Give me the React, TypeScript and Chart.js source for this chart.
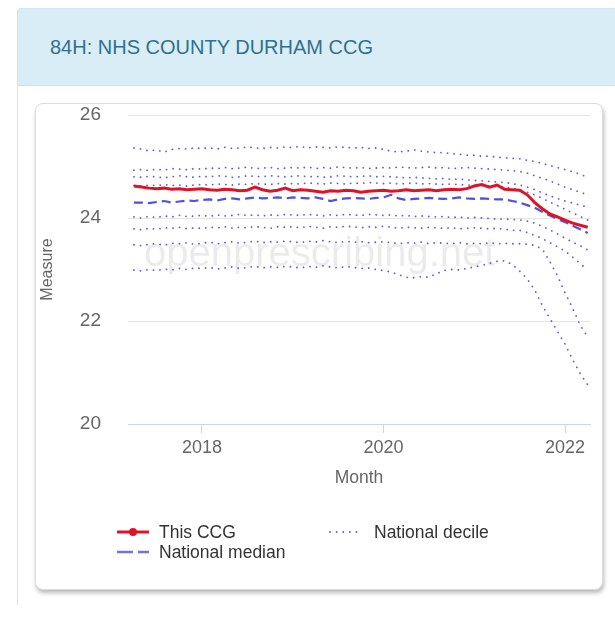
import React, { useEffect, useRef } from "react";
import { Chart, registerables } from "chart.js";

Chart.register(...registerables);

const FONT = '"Liberation Sans", Arial, Helvetica, sans-serif';

const months = [
  "2017-04", "2017-05", "2017-06", "2017-07", "2017-08", "2017-09", "2017-10", "2017-11", "2017-12",
  "2018-01", "2018-02", "2018-03", "2018-04", "2018-05", "2018-06", "2018-07", "2018-08", "2018-09", "2018-10", "2018-11", "2018-12",
  "2019-01", "2019-02", "2019-03", "2019-04", "2019-05", "2019-06", "2019-07", "2019-08", "2019-09", "2019-10", "2019-11", "2019-12",
  "2020-01", "2020-02", "2020-03", "2020-04", "2020-05", "2020-06", "2020-07", "2020-08", "2020-09", "2020-10", "2020-11", "2020-12",
  "2021-01", "2021-02", "2021-03", "2021-04", "2021-05", "2021-06",
  "2021-07", "2021-08", "2021-09", "2021-10", "2021-11", "2021-12", "2022-01", "2022-02", "2022-03", "2022-04",
];

const thisCCG = [
  24.62, 24.60, 24.58, 24.57, 24.58, 24.56, 24.57, 24.55, 24.56,
  24.57, 24.55, 24.54, 24.56, 24.55, 24.53, 24.54, 24.60, 24.55, 24.52, 24.54, 24.58,
  24.53, 24.55, 24.54, 24.52, 24.50, 24.53, 24.52, 24.54, 24.53, 24.50, 24.52, 24.53,
  24.54, 24.52, 24.53, 24.55, 24.53, 24.54, 24.55, 24.53, 24.55, 24.56, 24.55, 24.57,
  24.62, 24.65, 24.60, 24.64, 24.56, 24.55,
  24.54, 24.45, 24.30, 24.18, 24.08, 24.02, 23.96, 23.90, 23.86, 23.82,
];

const nationalMedian = [
  24.30, 24.30, 24.29, 24.31, 24.33, 24.30, 24.32, 24.34, 24.33,
  24.35, 24.36, 24.34, 24.37, 24.38, 24.36, 24.38, 24.40, 24.38, 24.39, 24.40, 24.38,
  24.40, 24.39, 24.38, 24.40, 24.37, 24.33, 24.36, 24.38, 24.39, 24.38, 24.37, 24.39,
  24.40, 24.45, 24.38, 24.35, 24.37, 24.38, 24.39, 24.38, 24.37, 24.38, 24.40, 24.38,
  24.37, 24.38, 24.37, 24.36, 24.36, 24.33,
  24.30, 24.25, 24.20, 24.12, 24.05, 23.98, 23.92, 23.85, 23.78, 23.71,
];

const decile90 = [
  25.36, 25.34, 25.30, 25.32, 25.28, 25.33, 25.35, 25.34, 25.36,
  25.35, 25.36, 25.34, 25.37, 25.35, 25.36, 25.38, 25.36, 25.35, 25.37, 25.36, 25.38,
  25.37, 25.39, 25.36, 25.38, 25.37, 25.36, 25.38, 25.37, 25.36, 25.37, 25.35, 25.36,
  25.33, 25.30, 25.28, 25.30, 25.32, 25.30, 25.28, 25.27, 25.27, 25.25, 25.24, 25.22,
  25.22, 25.20, 25.20, 25.18, 25.17, 25.16,
  25.15, 25.12, 25.10, 25.06, 25.02, 24.98, 24.94, 24.90, 24.85, 24.79,
];

const decile80 = [
  24.93, 24.94, 24.92, 24.95, 24.93, 24.96, 24.95, 24.94, 24.96,
  24.95, 24.97, 24.96, 24.98, 24.96, 24.97, 24.99, 24.96, 24.97, 24.98, 24.96, 24.97,
  24.98, 24.97, 24.99, 24.96, 24.98, 24.97, 24.99, 24.98, 24.97, 24.98, 24.96, 24.97,
  24.98, 24.97, 24.99, 24.98, 24.97, 24.98, 24.99, 24.97, 24.98, 24.96, 24.97, 24.98,
  24.97, 24.96, 24.95, 24.94, 24.93, 24.92,
  24.90, 24.87, 24.82, 24.77, 24.72, 24.66, 24.60, 24.55, 24.50, 24.45,
];

const decile70 = [
  24.80, 24.79, 24.81, 24.80, 24.78, 24.80, 24.82, 24.80, 24.79,
  24.81, 24.80, 24.82, 24.81, 24.79, 24.80, 24.82, 24.81, 24.80, 24.82, 24.81, 24.80,
  24.81, 24.82, 24.80, 24.81, 24.79, 24.80, 24.82, 24.81, 24.80, 24.81, 24.82, 24.80,
  24.81, 24.80, 24.79, 24.78, 24.79, 24.78, 24.77, 24.76, 24.77, 24.75, 24.76, 24.74,
  24.73, 24.72, 24.71, 24.70, 24.69, 24.67,
  24.64, 24.60, 24.55, 24.49, 24.43, 24.38, 24.33, 24.29, 24.25, 24.21,
];

const decile60 = [
  24.63, 24.62, 24.64, 24.63, 24.65, 24.63, 24.64, 24.62, 24.64,
  24.65, 24.64, 24.66, 24.65, 24.64, 24.66, 24.65, 24.67, 24.66, 24.65, 24.67, 24.66,
  24.67, 24.66, 24.68, 24.67, 24.66, 24.68, 24.67, 24.66, 24.68, 24.67, 24.69, 24.68,
  24.67, 24.68, 24.66, 24.67, 24.68, 24.66, 24.67, 24.66, 24.65, 24.66, 24.65, 24.64,
  24.64, 24.63, 24.62, 24.61, 24.60, 24.58,
  24.55, 24.50, 24.45, 24.38, 24.31, 24.24, 24.17, 24.10, 24.03, 23.96,
];

const decile40 = [
  24.02, 24.00, 24.03, 24.01, 24.04, 24.02, 24.05, 24.03, 24.04,
  24.05, 24.03, 24.06, 24.04, 24.05, 24.07, 24.05, 24.06, 24.04, 24.06, 24.05, 24.07,
  24.06, 24.05, 24.07, 24.06, 24.04, 24.06, 24.05, 24.07, 24.06, 24.05, 24.07, 24.06,
  24.05, 24.06, 24.04, 24.05, 24.03, 24.04, 24.03, 24.02, 24.03, 24.01, 24.02, 24.00,
  24.01, 24.00, 23.99, 23.98, 23.98, 23.97,
  23.96, 23.94, 23.90, 23.84, 23.77, 23.69, 23.61, 23.53, 23.46, 23.38,
];

const decile30 = [
  23.79, 23.77, 23.80, 23.78, 23.81, 23.80, 23.82, 23.79, 23.81,
  23.80, 23.82, 23.81, 23.83, 23.80, 23.82, 23.81, 23.83, 23.82, 23.80, 23.83, 23.82,
  23.83, 23.81, 23.84, 23.82, 23.80, 23.83, 23.82, 23.84, 23.83, 23.81, 23.83, 23.82,
  23.84, 23.82, 23.80, 23.82, 23.81, 23.80, 23.82, 23.81, 23.80, 23.81, 23.79, 23.80,
  23.81, 23.80, 23.79, 23.80, 23.78, 23.76,
  23.76, 23.72, 23.66, 23.60, 23.52, 23.44, 23.36, 23.24, 23.12, 22.99,
];

const decile20 = [
  23.48, 23.46, 23.49, 23.50, 23.47, 23.51, 23.50, 23.52, 23.49,
  23.51, 23.53, 23.50, 23.52, 23.54, 23.51, 23.53, 23.55, 23.52, 23.54, 23.53, 23.55,
  23.54, 23.52, 23.55, 23.53, 23.56, 23.54, 23.52, 23.55, 23.53, 23.54, 23.52, 23.53,
  23.54, 23.52, 23.50, 23.52, 23.51, 23.53, 23.50, 23.52, 23.51, 23.50, 23.52, 23.50,
  23.51, 23.50, 23.52, 23.50, 23.51, 23.50,
  23.50, 23.49, 23.47, 23.40, 23.15, 22.88, 22.55, 22.25, 21.92, 21.69,
];

const decile10 = [
  22.99, 22.97, 23.00, 22.98, 23.01, 22.99, 23.02, 23.00, 23.03,
  23.02, 23.04, 23.01, 23.03, 23.05, 23.02, 23.04, 23.06, 23.03, 23.05, 23.04, 23.06,
  23.05, 23.03, 23.06, 23.04, 23.07, 23.05, 23.03, 23.06, 23.04, 23.02, 23.03, 23.00,
  22.98, 22.95, 22.90, 22.85, 22.84, 22.86, 22.85, 22.92, 22.98, 23.00, 22.99, 23.02,
  23.05, 23.08, 23.12, 23.16, 23.17, 23.10,
  22.97, 22.82, 22.60, 22.30, 22.05, 21.80, 21.55, 21.25, 20.98, 20.76,
];

const xTickYears = [2018, 2020, 2022];
const yTickValues = [20, 22, 24, 26];
const deciles = [decile90, decile80, decile70, decile60, decile40, decile30, decile20, decile10];

const RED = "rgb(222, 20, 38)";
const MEDIAN = "rgba(62, 62, 220, 0.9)";
const DECILE = "rgba(70, 72, 190, 0.85)";

function monthToYear(m: string): number {
  const [y, mo] = m.split("-").map(Number);
  return y + (mo - 1) / 12;
}

function series(values: number[]) {
  return months.map((m, i) => ({ x: monthToYear(m), y: values[i] }));
}

const watermark = {
  id: "watermark",
  beforeDatasetsDraw(chart: any) {
    const { ctx, chartArea } = chart;
    ctx.save();
    ctx.font = `40px ${FONT}`;
    ctx.fillStyle = "rgba(0,0,0,0.08)";
    ctx.textAlign = "center";
    ctx.textBaseline = "alphabetic";
    ctx.fillText(
      "openprescribing.net",
      chartArea.left + chartArea.width * 0.415,
      chartArea.top + chartArea.height * 0.489
    );
    ctx.restore();
  },
};

function MeasureChart() {
  const ref = useRef<HTMLCanvasElement | null>(null);
  useEffect(() => {
    if (!ref.current) return;
    const datasets: any[] = [
      {
        label: "This CCG",
        data: series(thisCCG),
        borderColor: RED,
        borderWidth: 3,
        pointRadius: 0,
        tension: 0,
      },
      {
        label: "National median",
        data: series(nationalMedian),
        borderColor: MEDIAN,
        borderWidth: 2.2,
        borderDash: [9, 5],
        pointRadius: 0,
        tension: 0,
      },
      ...deciles.map((d, i) => ({
        label: "National decile " + i,
        data: series(d),
        borderColor: DECILE,
        borderWidth: 1.8,
        borderDash: [0.1, 6.5],
        borderCapStyle: "round",
        pointRadius: 0,
        tension: 0,
      })),
    ];
    const chart = new Chart(ref.current, {
      type: "line",
      data: { datasets },
      plugins: [watermark],
      options: {
        animation: false,
        responsive: false,
        devicePixelRatio: 1,
        layout: { padding: { top: 11, right: 11, left: 0, bottom: 0 } },
        plugins: { legend: { display: false }, tooltip: { enabled: false } },
        scales: {
          x: {
            type: "linear",
            min: 2017.185,
            max: 2022.275,
            afterFit(s: any) {
              s.height = 100;
              s.paddingLeft = 0;
              s.paddingRight = 0;
            },
            afterBuildTicks(s: any) {
              s.ticks = xTickYears.map((v) => ({ value: v }));
            },
            ticks: {
              font: { size: 18, family: FONT },
              color: "#666666",
              padding: 4,
              maxRotation: 0,
              autoSkip: false,
              callback: (v: any) => String(v),
            },
            grid: {
              drawOnChartArea: false,
              drawTicks: true,
              tickLength: 9,
              color: "#ccd6eb",
            },
            border: { display: true, color: "#ccd6eb" },
            title: {
              display: true,
              text: "Month",
              font: { size: 17.5, family: FONT },
              color: "#666666",
              padding: { top: 0, bottom: 35 },
            },
          },
          y: {
            min: 20,
            max: 26,
            afterFit(s: any) {
              s.width = 92;
              s.paddingTop = 0;
              s.paddingBottom = 0;
            },
            afterBuildTicks(s: any) {
              s.ticks = yTickValues.map((v) => ({ value: v }));
            },
            ticks: {
              font: { size: 19, family: FONT },
              color: "#666666",
              padding: 27,
            },
            grid: { color: "#e6e6e6", drawTicks: false },
            border: { display: false },
            title: {
              display: true,
              text: "Measure",
              font: { size: 16, family: FONT },
              color: "#666666",
              padding: { top: 2, bottom: 0 },
            },
          },
        },
      } as any,
    });
    return () => chart.destroy();
  }, []);
  return (
    <canvas
      ref={ref}
      width={565}
      height={420}
      style={{ position: "absolute", left: 36, top: 104, width: 565, height: 420 }}
    />
  );
}

const legendText: React.CSSProperties = {
  position: "absolute",
  fontSize: 17.5,
  lineHeight: "20px",
  color: "#333333",
  whiteSpace: "nowrap",
};

export default function App() {
  return (
    <div
      style={{
        position: "absolute",
        left: 0,
        top: 0,
        width: 615,
        height: 620,
        overflow: "hidden",
        background: "#ffffff",
        fontFamily: FONT,
      }}
    >
      {/* outer panel */}
      <div
        style={{
          position: "absolute",
          left: 17,
          top: 8,
          width: 640,
          height: 597,
          border: "1px solid #cfe6ef",
          borderBottom: "none",
          borderTopLeftRadius: 4,
          boxSizing: "border-box",
          background: "#ffffff",
        }}
      />
      <div
        style={{
          position: "absolute",
          left: 18,
          top: 9,
          width: 640,
          height: 76,
          background: "#d9edf7",
          borderBottom: "1px solid #c6e3ef",
          borderTopLeftRadius: 3,
        }}
      />
      <div
        style={{
          position: "absolute",
          left: 50,
          top: 35,
          fontSize: 20,
          lineHeight: "24px",
          color: "#31708f",
          whiteSpace: "nowrap",
        }}
      >
        84H: NHS COUNTY DURHAM CCG
      </div>
      {/* inner card */}
      <div
        style={{
          position: "absolute",
          left: 35,
          top: 103,
          width: 568,
          height: 487,
          border: "1px solid #dddddd",
          borderRadius: 8,
          boxSizing: "border-box",
          boxShadow: "1px 3px 4px rgba(0,0,0,0.28)",
          background: "#ffffff",
        }}
      />
      <MeasureChart />
      {/* legend */}
      <svg style={{ position: "absolute", left: 116, top: 526 }} width={34} height={12}>
        <line x1={1} y1={6} x2={33} y2={6} stroke={RED} strokeWidth={3} />
        <circle cx={17} cy={6} r={4} fill={RED} />
      </svg>
      <div style={{ ...legendText, left: 159, top: 522 }}>This CCG</div>
      <svg style={{ position: "absolute", left: 328, top: 526 }} width={32} height={12}>
        <line
          x1={2}
          y1={6}
          x2={30}
          y2={6}
          stroke={DECILE}
          strokeWidth={1.8}
          strokeDasharray="0.1 6.5"
          strokeLinecap="round"
        />
      </svg>
      <div style={{ ...legendText, left: 374, top: 522 }}>National decile</div>
      <svg style={{ position: "absolute", left: 116, top: 546 }} width={34} height={12}>
        <line
          x1={1}
          y1={6}
          x2={33}
          y2={6}
          stroke="rgba(100,100,225,0.9)"
          strokeWidth={2.5}
          strokeDasharray="16 5"
        />
      </svg>
      <div style={{ ...legendText, left: 159, top: 542 }}>National median</div>
    </div>
  );
}
